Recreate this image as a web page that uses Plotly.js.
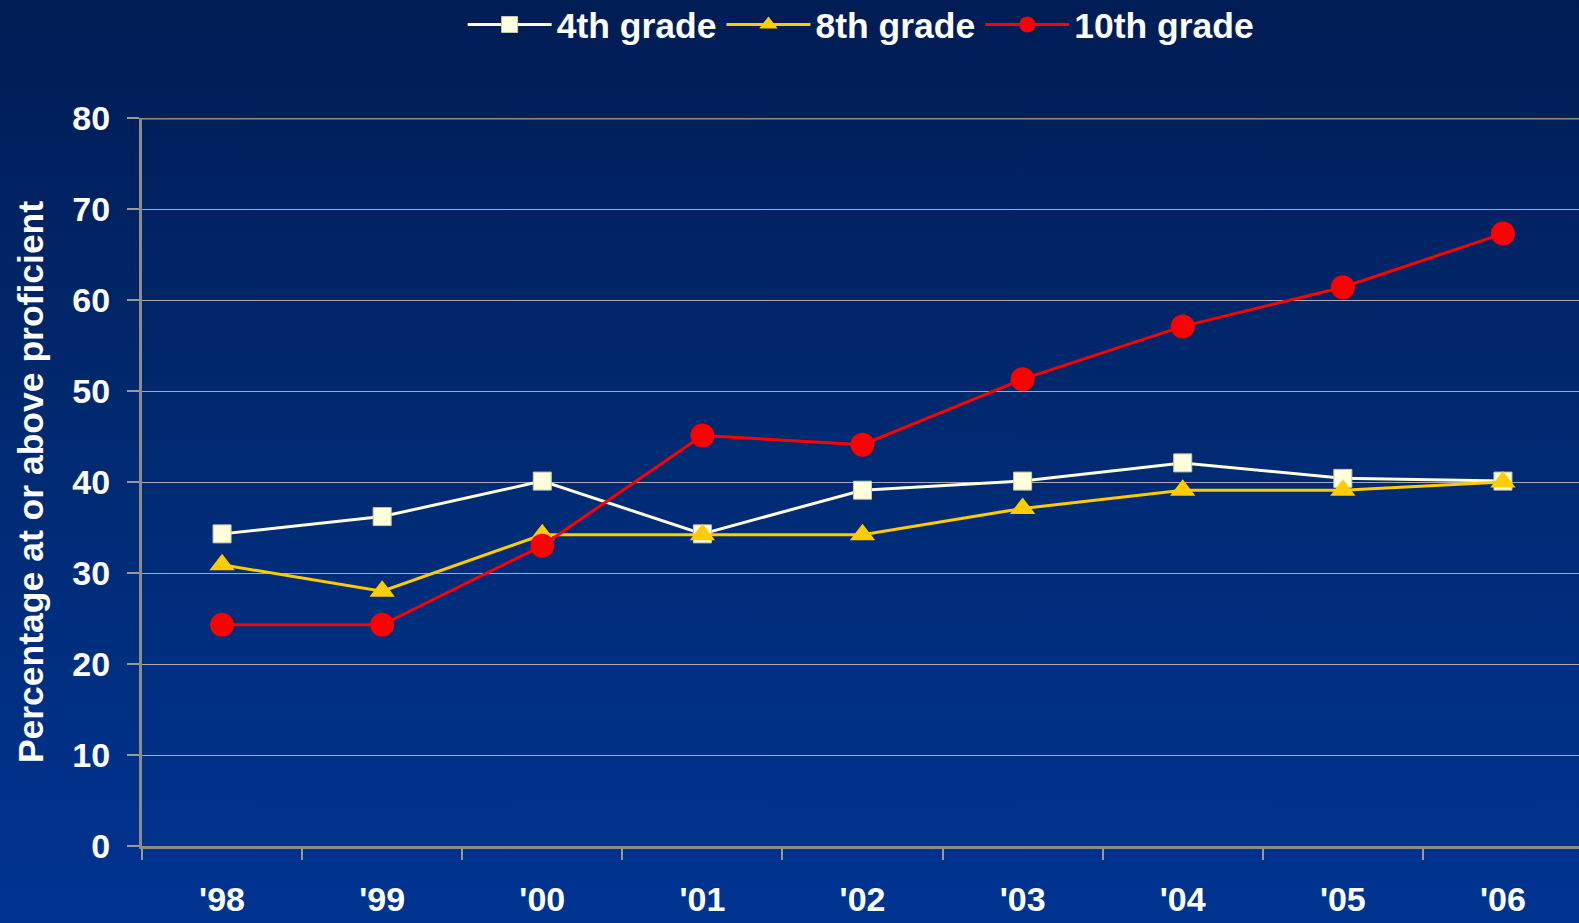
<!DOCTYPE html>
<html>
<head>
<meta charset="utf-8">
<script src="https://cdn.plot.ly/plotly-3.0.1.min.js"></script>
<style>
html, body { margin:0; padding:0; overflow:hidden; width:1579px; height:923px;
  background: linear-gradient(to bottom, #001c55 0%, #00296f 45%, #003492 100%); }
#chart { width:1583px; height:923px; }
</style>
</head>
<body>
<div id="chart"></div>
<script>
const years = ["'98", "'99", "'00", "'01", "'02", "'03", "'04", "'05", "'06"];
const grade4 = [34.3, 36.2, 40.1, 34.3, 39.1, 40.1, 42.1, 40.4, 40.1];
const grade8 = [30.9, 28.0, 34.2, 34.2, 34.2, 37.1, 39.1, 39.1, 40.0];
const grade10 = [24.3, 24.3, 33.0, 45.1, 44.1, 51.3, 57.1, 61.4, 67.3];
const yTicks = [0, 10, 20, 30, 40, 50, 60, 70, 80];

const FONT = 'Liberation Sans, Arial, sans-serif';

const traces = [
  { x: years, y: grade4, name: '4th grade', type: 'scatter', mode: 'lines+markers',
    line: { color: '#ffffdd', width: 3 },
    marker: { symbol: 'square', size: 18, color: '#ffffdd', line: { color: '#c8c8b0', width: 1 } } },
  { x: years, y: grade8, name: '8th grade', type: 'scatter', mode: 'lines+markers',
    line: { color: '#ffcc00', width: 3 },
    marker: { symbol: 'triangle-up', size: 22, color: '#ffcc00' } },
  { x: years, y: grade10, name: '10th grade', type: 'scatter', mode: 'lines+markers',
    line: { color: '#ff0000', width: 3 },
    marker: { symbol: 'circle', size: 24, color: '#ff0000' } }
];

const layout = {
  width: 1583, height: 923,
  paper_bgcolor: 'rgba(0,0,0,0)', plot_bgcolor: 'rgba(0,0,0,0)',
  margin: { l: 142, r: 0, t: 118, b: 77 },
  font: { family: FONT, color: '#ffffff' },
  showlegend: true,
  legend: {
    orientation: 'h', xref: 'container', yref: 'container',
    x: 0.544, xanchor: 'center', y: 0.973, yanchor: 'middle',
    font: { family: FONT, size: 35.5, color: '#ffffff', weight: 'bold' },
    itemwidth: 84, traceorder: 'normal', bgcolor: 'rgba(0,0,0,0)'
  },
  xaxis: {
    type: 'category', range: [-0.5, 8.5], tickmode: 'array', tickvals: years,
    ticks: 'outside', tickson: 'boundaries', ticklen: 11, tickwidth: 2, tickcolor: '#9a9a9a',
    showline: true, linecolor: '#8c8c8c', linewidth: 3, mirror: false,
    showgrid: false, zeroline: false,
    tickfont: { family: FONT, size: 34, color: '#ffffff', weight: 'bold' },
    ticklabelstandoff: 21
  },
  yaxis: {
    range: [0, 80], tickmode: 'array', tickvals: yTicks,
    ticks: 'outside', ticklen: 12, tickwidth: 2, tickcolor: '#9a9a9a',
    showline: true, linecolor: '#8c8c8c', linewidth: 3,
    showgrid: true, gridcolor: '#a8a8b8', gridwidth: 1, zeroline: false,
    tickfont: { family: FONT, size: 34, color: '#ffffff', weight: 'bold' },
    ticklabelstandoff: 10,
    title: { text: 'Percentage at or above proficient', standoff: 18,
      font: { family: FONT, size: 35.5, color: '#ffffff', weight: 'bold' } }
  },
  shapes: [
    { type: 'line', xref: 'paper', yref: 'y', x0: 0, x1: 1, y0: 80, y1: 80,
      line: { color: '#8c8c8c', width: 3 } }
  ]
};

Plotly.newPlot('chart', traces, layout, { displayModeBar: false, staticPlot: true });
</script>
</body>
</html>
